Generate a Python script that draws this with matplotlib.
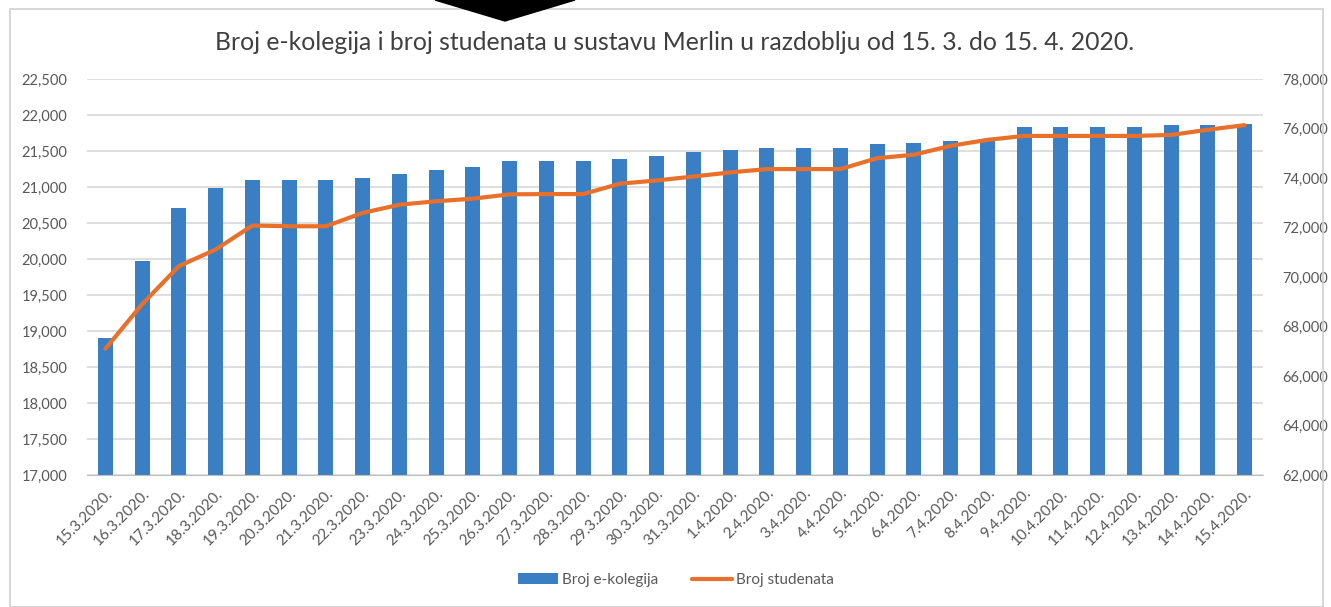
import numpy as np
import matplotlib.pyplot as plt
from matplotlib.patches import Rectangle, Polygon
from matplotlib.ticker import FuncFormatter, MultipleLocator

# Data
dates = ['15.3.2020.', '16.3.2020.', '17.3.2020.', '18.3.2020.', '19.3.2020.', '20.3.2020.',
         '21.3.2020.', '22.3.2020.', '23.3.2020.', '24.3.2020.', '25.3.2020.', '26.3.2020.',
         '27.3.2020.', '28.3.2020.', '29.3.2020.', '30.3.2020.', '31.3.2020.', '1.4.2020.',
         '2.4.2020.', '3.4.2020.', '4.4.2020.', '5.4.2020.', '6.4.2020.', '7.4.2020.',
         '8.4.2020.', '9.4.2020.', '10.4.2020.', '11.4.2020.', '12.4.2020.', '13.4.2020.',
         '14.4.2020.', '15.4.2020.']

e_kolegija = [18900, 19970, 20710, 20990, 21095, 21095, 21095, 21130, 21175, 21235, 21275,
              21355, 21355, 21355, 21395, 21435, 21480, 21515, 21535, 21535, 21535, 21600,
              21615, 21640, 21655, 21840, 21840, 21840, 21840, 21860, 21860, 21880]

studenti = [67100, 68900, 70440, 71110, 72080, 72050, 72050, 72590, 72920, 73060, 73165,
            73340, 73350, 73350, 73770, 73900, 74060, 74225, 74360, 74360, 74360, 74800,
            74940, 75300, 75540, 75700, 75700, 75700, 75700, 75740, 75950, 76135]

title = 'Broj e-kolegija i broj studenata u sustavu Merlin u razdoblju od 15. 3. do 15. 4. 2020.'

plt.rcParams['font.family'] = ['Lato', 'DejaVu Sans']

bar_color = '#3A7FC4'
line_color = '#E8702A'
text_color = '#595959'
grid_color = '#D9D9D9'

fig = plt.figure(figsize=(13.31, 6.07), dpi=100)
W, H = 1331, 607

# outer chart frame and the black triangle shape at the top
fig.patches.append(Rectangle((10 / W, 0), (1323 - 10) / W, (607 - 9) / H, transform=fig.transFigure,
                             fill=False, edgecolor='#D0D0D0', linewidth=1.2))
fig.patches.append(Polygon([(435 / W, 1.0), (575 / W, 1.0), (505 / W, 1 - 21 / H)],
                           closed=True, transform=fig.transFigure, facecolor='black',
                           edgecolor='black', zorder=5))

ax = fig.add_axes([87 / W, (607 - 475) / H, (1263 - 87) / W, (475 - 79) / H])
ax2 = ax.twinx()

x = np.arange(len(dates))
ax.bar(x, e_kolegija, width=0.41, color=bar_color, zorder=2, label='Broj e-kolegija')
ax2.plot(x, studenti, color=line_color, linewidth=3, zorder=3, label='Broj studenata',
         solid_capstyle='round')

ax.set_xlim(-0.5, len(dates) - 0.5)
ax.set_ylim(17000, 22500)
ax2.set_ylim(62000, 78000)
ax.yaxis.set_major_locator(MultipleLocator(500))
ax2.yaxis.set_major_locator(MultipleLocator(2000))
fmt = FuncFormatter(lambda v, p: f'{int(v):,}')
ax.yaxis.set_major_formatter(fmt)
ax2.yaxis.set_major_formatter(fmt)

ax.grid(axis='y', color=grid_color, linewidth=1.2, zorder=0)
ax.set_axisbelow(True)

for a in (ax, ax2):
    for s in a.spines.values():
        s.set_visible(False)
    a.tick_params(length=0, colors=text_color, labelsize=10.5)
ax.spines['bottom'].set_visible(True)
ax.spines['bottom'].set_color('#BFBFBF')
ax.tick_params(axis='y', pad=14)
ax2.tick_params(axis='y', pad=14)

ax.set_xticks(x)
ax.set_xticklabels(dates, rotation=45, ha='right', va='top', rotation_mode='anchor')
ax.tick_params(axis='x', pad=8, labelsize=11)

fig.text(0.507, 1 - 42 / H, title, ha='center', va='center', fontsize=17.8, color='#404040')

h1, l1 = ax.get_legend_handles_labels()
h2, l2 = ax2.get_legend_handles_labels()
fig.legend(h1 + h2, l1 + l2, loc='center', bbox_to_anchor=(0.508, 1 - 580 / H), ncol=2,
           frameon=False, fontsize=11, labelcolor=text_color, handlelength=2.6,
           columnspacing=2.2, handletextpad=0.3)

fig.savefig('out.png', dpi=100)
